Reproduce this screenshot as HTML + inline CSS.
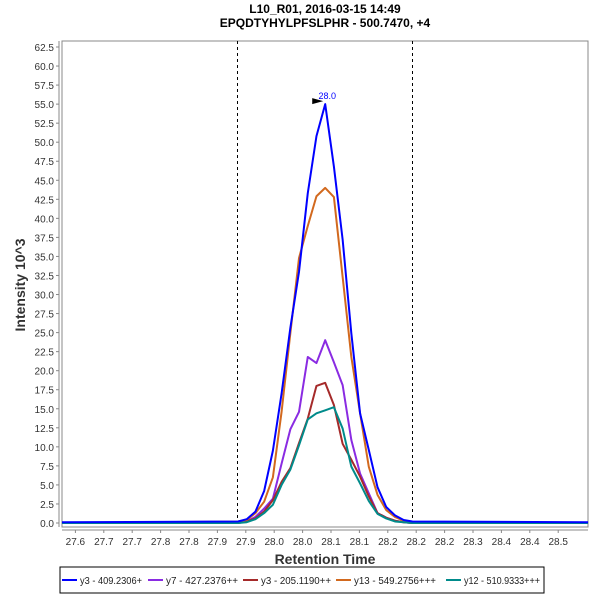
<!DOCTYPE html>
<html><head><meta charset="utf-8"><style>
body{margin:0;background:#fff;width:600px;height:600px;overflow:hidden}
text{font-family:"Liberation Sans",sans-serif}
</style></head><body>
<svg id="c" width="600" height="600" xmlns="http://www.w3.org/2000/svg">
<text x="325" y="13" text-anchor="middle" font-size="12" font-weight="bold">L10_R01, 2016-03-15 14:49</text>
<text x="325" y="27" text-anchor="middle" font-size="12" font-weight="bold">EPQDTYHYLPFSLPHR - 500.7470, +4</text>
<rect x="62" y="41" width="526" height="486" fill="#fff" stroke="#888"/>
<g id="yax"></g>
<g id="xax"></g>
<text transform="translate(25,285) rotate(-90)" text-anchor="middle" font-size="14" font-weight="bold" fill="#333">Intensity 10^3</text>
<text x="325" y="564" text-anchor="middle" font-size="14" font-weight="bold" fill="#333">Retention Time</text>
<g id="series"></g>
<g id="legend"><rect x="60" y="567" width="484" height="26" fill="#fff" stroke="#000"/></g>
</svg>
<script>
const times=[27.5764,27.8863,27.9016,27.9170,27.9323,27.9477,27.9630,27.9784,27.9937,28.0091,28.0244,28.0398,28.0551,28.0705,28.0858,28.1012,28.1165,28.1319,28.1472,28.1626,28.1779,28.1933,28.5025];
const blue  =[0.1,0.2,0.5,1.5,4.2,9.5,17.0,25.6,33.0,43.3,50.8,55.0,46.8,37.2,24.9,14.4,9.6,4.7,2.1,1.0,0.4,0.2,0.1];
const purple=[0.0,0.0,0.2,0.8,1.9,3.2,7.8,12.3,14.6,21.8,21.0,24.0,21.1,18.1,10.9,6.5,3.9,1.3,0.7,0.3,0.1,0.0,0.0];
const red   =[0.0,0.0,0.2,0.6,1.5,3.0,5.4,7.2,10.5,13.7,18.0,18.4,15.5,10.4,8.3,6.1,3.5,1.3,0.7,0.3,0.1,0.0,0.0];
const orange=[0.0,0.2,0.4,1.3,2.8,6.0,14.6,24.9,34.8,39.0,42.9,44.0,42.8,32.3,21.8,14.4,7.4,3.7,1.7,0.8,0.3,0.1,0.0];
const teal  =[0.0,0.0,0.1,0.5,1.3,2.4,5.0,7.0,10.2,13.6,14.4,14.8,15.2,12.4,7.4,5.2,2.9,1.2,0.6,0.2,0.1,0.0,0.0];
const seriesNames=["y3 - 409.2306+","y7 - 427.2376++","y3 - 205.1190++","y13 - 549.2756+++","y12 - 510.9333+++"];
const yTicks=[0,2.5,5,7.5,10,12.5,15,17.5,20,22.5,25,27.5,30,32.5,35,37.5,40,42.5,45,47.5,50,52.5,55,57.5,60,62.5];
const xTicks=[27.60,27.65,27.70,27.75,27.80,27.85,27.90,27.95,28.00,28.05,28.10,28.15,28.20,28.25,28.30,28.35,28.40,28.45];
const xTickLabels=["27.6","27.7","27.7","27.8","27.8","27.9","27.9","28.0","28.0","28.1","28.1","28.2","28.2","28.2","28.3","28.4","28.4","28.5"];
const boundaries=[27.8845,28.1926];
const peakTime=28.0398, peakValue=55.0, peakLabel="28.0";
const NS="http://www.w3.org/2000/svg";
const X=t=>75.4+(t-27.6)*568;
const Y=v=>523-v*7.616;
function mk(tag,attrs,parent,txt){const e=document.createElementNS(NS,tag);for(const k in attrs)e.setAttribute(k,attrs[k]);if(txt!==undefined)e.textContent=txt;parent.appendChild(e);return e;}
const yax=document.getElementById('yax'),xax=document.getElementById('xax'),sg=document.getElementById('series'),lg=document.getElementById('legend');
mk('line',{x1:59,y1:41,x2:59,y2:527,stroke:'#888'},yax);
yTicks.forEach(v=>{const y=Y(v);mk('line',{x1:56,y1:y,x2:59,y2:y,stroke:'#888'},yax);
 const t=mk('text',{x:54,y:y+4,'text-anchor':'end','font-size':10,fill:'#333'},yax,v.toFixed(1));
 
 });
mk('line',{x1:62,y1:530,x2:588,y2:530,stroke:'#888'},xax);
xTicks.forEach((v,i)=>{const x=X(v);mk('line',{x1:x,y1:530,x2:x,y2:533,stroke:'#888'},xax);
 const t=mk('text',{x:x,y:545,'text-anchor':'middle','font-size':10,fill:'#333'},xax,xTickLabels[i]);
 
 });
boundaries.forEach(b=>{const bx=Math.round(X(b))+0.5;const l=mk('line',{x1:bx,y1:41,x2:bx,y2:527,stroke:'#000','stroke-width':1,'stroke-dasharray':'3,3'},sg);
 
 });
const data=[purple,red,orange,teal,blue];
const cols=['#8a2be2','#a52a2a','#d2691e','#008b8b','#0000ff'];
const legOrder=[4,0,1,2,3];
const names=['series-y7','series-y3-205','series-y13','series-y12','series-y3-409'];
data.forEach((d,i)=>{const p=mk('polyline',{points:d.map((v,j)=>X(times[j])+','+Y(v)).join(' '),fill:'none',stroke:cols[i],'stroke-width':2,'stroke-linejoin':'round'},sg);
 
 });
const px=X(peakTime),py=Y(peakValue);
const tri=mk('polygon',{points:`${px-13},${py-6} ${px-2},${py-3} ${px-13},${py}`,fill:'#000'},sg);


const pl=mk('text',{x:px+2,y:py-5,'font-size':9,fill:'#0000ff','text-anchor':'middle'},sg,peakLabel);


const lx=[62,148,243,336,446];
const tw=[62,72,70,82,76];
seriesNames.forEach((n,i)=>{const c=cols[legOrder[i]];const g=mk('g',{},lg);
 
 
 mk('line',{x1:lx[i],y1:580,x2:lx[i]+15,y2:580,stroke:c,'stroke-width':2},g);
 mk('text',{x:lx[i]+18,y:584,'font-size':10,fill:'#222',textLength:tw[i],lengthAdjust:'spacingAndGlyphs'},g,n);});
</script>
</body></html>
